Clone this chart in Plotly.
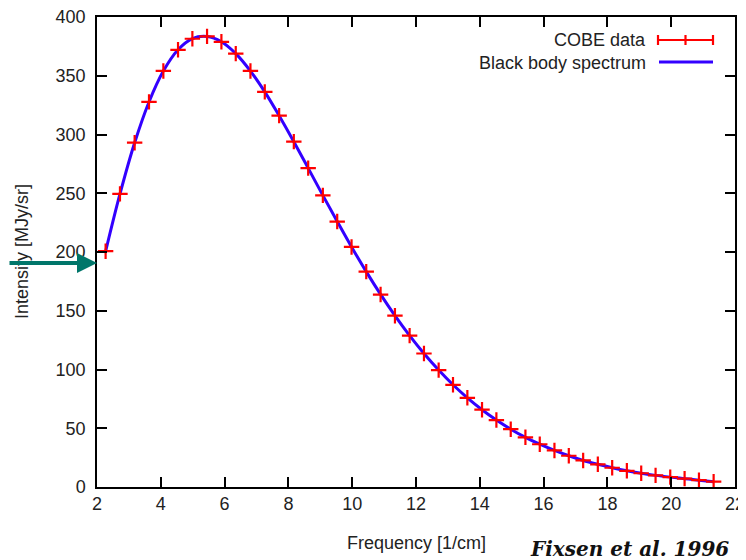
import plotly.graph_objects as go

# COBE FIRAS data (frequency in 1/cm, intensity in MJy/sr)
freq = [2.27, 2.72, 3.18, 3.63, 4.08, 4.54, 4.99, 5.45, 5.90, 6.35, 6.81, 7.26,
        7.71, 8.17, 8.62, 9.08, 9.53, 9.98, 10.44, 10.89, 11.34, 11.80, 12.25,
        12.71, 13.16, 13.61, 14.07, 14.52, 14.97, 15.43, 15.88, 16.34, 16.79,
        17.24, 17.70, 18.15, 18.61, 19.06, 19.51, 19.97, 20.42, 20.87, 21.33]
intensity = [200.7, 249.5, 293.0, 327.8, 354.1, 372.1, 381.5, 383.5, 378.9,
             368.8, 354.1, 336.3, 316.1, 293.9, 271.4, 248.2, 225.9, 204.3,
             183.3, 163.8, 145.8, 128.8, 113.6, 99.5, 87.0, 75.9, 65.8, 57.0,
             49.2, 42.3, 36.4, 31.1, 26.6, 22.6, 19.3, 16.4, 13.8, 11.7, 9.9,
             8.4, 7.1, 5.8, 4.5]

# Black body curve
bb_freq = [2.27, 2.72, 3.18, 3.63, 4.08, 4.54, 4.99, 5.45, 5.90, 6.35, 6.81,
           7.26, 7.71, 8.17, 8.62, 9.08, 9.53, 9.98, 10.44, 10.89, 11.34,
           11.80, 12.25, 12.71, 13.16, 13.61, 14.07, 14.52, 14.97, 15.43,
           15.88, 16.34, 16.79, 17.24, 17.70, 18.15, 18.61, 19.06, 19.51,
           19.97, 20.42, 20.87, 21.33]
bb_int = [200.5, 249.4, 293.0, 327.7, 354.0, 372.1, 381.6, 383.4, 378.9,
          368.8, 354.0, 336.3, 316.0, 293.9, 271.4, 248.2, 226.0, 204.3,
          183.3, 163.9, 145.8, 128.8, 113.6, 99.5, 87.0, 75.9, 65.8, 57.0,
          49.2, 42.3, 36.4, 31.1, 26.6, 22.6, 19.3, 16.4, 13.8, 11.7, 9.9,
          8.4, 7.1, 5.8, 4.5]

x_ticks = [2, 4, 6, 8, 10, 12, 14, 16, 18, 20, 22]
y_ticks = [0, 50, 100, 150, 200, 250, 300, 350, 400]

RED = "#ff0000"
BLUE = "#3300ff"
TEAL = "#00766a"
TXT = "#222222"
FONT = "Liberation Sans, Arial, sans-serif"

fig = go.Figure()
fig.add_trace(go.Scatter(
    x=bb_freq, y=bb_int, mode="lines", line=dict(color=BLUE, width=3, shape="spline"),
    name="Black body spectrum", showlegend=False))
fig.add_trace(go.Scatter(
    x=freq, y=intensity, mode="markers",
    marker=dict(symbol="cross-thin", size=11, line=dict(color=RED, width=2.2)),
    name="COBE data", showlegend=False))

axis_common = dict(
    showgrid=False, zeroline=False, showline=True, linecolor="black", linewidth=1.5,
    ticks="inside", ticklen=10, tickwidth=1.5, tickcolor="black", mirror="allticks",
    tickfont=dict(family=FONT, size=18, color=TXT), automargin=False,
    ticklabeloverflow="allow",
)
fig.update_xaxes(range=[2, 22], tickvals=x_ticks, **axis_common)
fig.update_yaxes(range=[0, 400], tickvals=y_ticks, ticklabelstandoff=6, **axis_common)

# page pixel -> paper helpers (plot area on the page: 97..735 x 17..487)
W, H, L, B = 638.0, 470.0, 97.0, 487.0
def px(x): return (x - L) / W
def py(y): return (B - y) / H

annotations = [
    dict(text="Frequency [1/cm]", x=px(416), y=py(543), xref="paper", yref="paper",
         xanchor="center", yanchor="middle", showarrow=False,
         font=dict(family=FONT, size=18, color=TXT)),
    dict(text="Intensity [MJy/sr]", x=px(22), y=py(252), xref="paper", yref="paper",
         xanchor="center", yanchor="middle", showarrow=False, textangle=-90,
         font=dict(family=FONT, size=18, color=TXT)),
    dict(text="COBE data", x=px(648), y=py(40), xref="paper", yref="paper",
         xanchor="right", yanchor="middle", showarrow=False,
         font=dict(family=FONT, size=18, color=TXT)),
    dict(text="Black body spectrum", x=px(648), y=py(63), xref="paper", yref="paper",
         xanchor="right", yanchor="middle", showarrow=False,
         font=dict(family=FONT, size=18, color=TXT)),
    dict(text="<b><i>Fixsen et al. 1996</i></b>", x=px(731), y=py(549),
         xref="paper", yref="paper", xanchor="right", yanchor="middle", showarrow=False,
         font=dict(family="DejaVu Serif, serif", size=20, color="#111")),
    dict(text="", x=0, y=py(263), xref="paper", yref="paper",
         showarrow=True, ax=-92, ay=0, axref="pixel", ayref="pixel",
         arrowhead=2, arrowsize=1.0, arrowwidth=4, arrowcolor=TEAL),
]
shapes = [
    dict(type="line", xref="paper", yref="paper", x0=px(658), x1=px(713), y0=py(40), y1=py(40),
         line=dict(color=RED, width=2.2)),
    dict(type="line", xref="paper", yref="paper", x0=px(658), x1=px(658), y0=py(35), y1=py(45),
         line=dict(color=RED, width=2.2)),
    dict(type="line", xref="paper", yref="paper", x0=px(685.5), x1=px(685.5), y0=py(35), y1=py(45),
         line=dict(color=RED, width=2.2)),
    dict(type="line", xref="paper", yref="paper", x0=px(713), x1=px(713), y0=py(35), y1=py(45),
         line=dict(color=RED, width=2.2)),
    dict(type="line", xref="paper", yref="paper", x0=px(659), x1=px(713), y0=py(62), y1=py(62),
         line=dict(color=BLUE, width=3)),
]

# The page body has an 8px margin, so the figure is 8px smaller each way
fig.update_layout(
    width=738, height=552, margin=dict(l=89, r=11, t=9, b=73),
    plot_bgcolor="white", paper_bgcolor="white",
    annotations=annotations, shapes=shapes, showlegend=False,
)

fig.write_html("out.html")
